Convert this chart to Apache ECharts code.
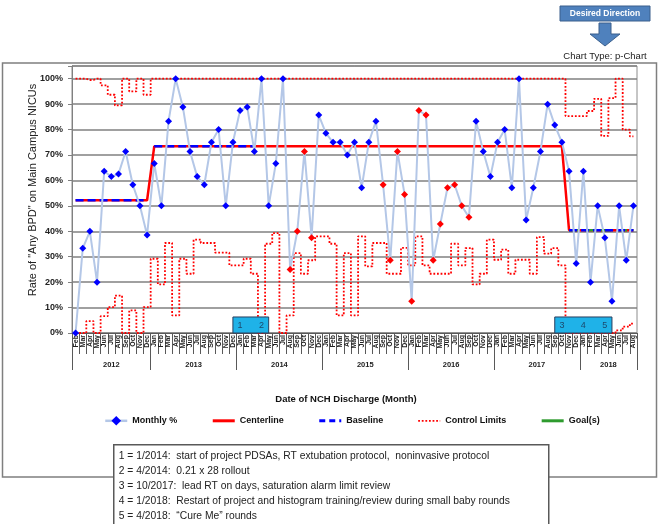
<!DOCTYPE html>
<html>
<head>
<meta charset="utf-8">
<script src="https://cdn.jsdelivr.net/npm/echarts@6/dist/echarts.min.js"></script>
<style>
  html, body { margin: 0; padding: 0; background: #fff; }
  #chart { width: 658px; height: 524px; }
</style>
</head>
<body>
<div id="chart"></div>
<script>
// months Feb 2012 .. Aug 2018
var monthLabels = [
  'Feb', 'Mar', 'Apr', 'May', 'Jun', 'Jul', 'Aug', 'Sep', 'Oct', 'Nov', 'Dec',
  'Jan', 'Feb', 'Mar', 'Apr', 'May', 'Jun', 'Jul', 'Aug', 'Sep', 'Oct', 'Nov', 'Dec',
  'Jan', 'Feb', 'Mar', 'Apr', 'May', 'Jun', 'Jul', 'Aug', 'Sep', 'Oct', 'Nov', 'Dec',
  'Jan', 'Feb', 'Mar', 'Apr', 'May', 'Jun', 'Jul', 'Aug', 'Sep', 'Oct', 'Nov', 'Dec',
  'Jan', 'Feb', 'Mar', 'Apr', 'May', 'Jun', 'Jul', 'Aug', 'Sep', 'Oct', 'Nov', 'Dec',
  'Jan', 'Feb', 'Mar', 'Apr', 'May', 'Jun', 'Jul', 'Aug', 'Sep', 'Oct', 'Nov', 'Dec',
  'Jan', 'Feb', 'Mar', 'Apr', 'May', 'Jun', 'Jul', 'Aug'
];
var yearLabels = ['2012', '2013', '2014', '2015', '2016', '2017', '2018'];
var yearBounds = [0, 11, 23, 35, 47, 59, 71, 79];   // month index where each year starts, plus end

// monthly rate (%)
var monthlyRate = [
  0, 33.3, 40, 20, 63.6, 61.5, 62.5, 71.4, 58.3, 50, 38.5,
  66.7, 50, 83.3, 100, 88.9, 71.4, 61.5, 58.3, 75, 80, 50, 75,
  87.5, 88.9, 71.4, 100, 50, 66.7, 100, 25, 40, 71.4, 37.5, 85.7,
  78.6, 75, 75, 70, 75, 57.1, 75, 83.3, 58.3, 28.6, 71.4, 54.5,
  12.5, 87.5, 85.7, 28.6, 42.9, 57.1, 58.3, 50, 45.5, 83.3, 71.4, 61.5,
  75, 80, 57.1, 100, 44.4, 57.1, 71.4, 90, 81.8, 75, 63.6, 27.3,
  63.6, 20, 50, 37.5, 12.5, 50, 28.6, 50
];
// months flagged as special cause (red points)
var signalMonths = [30, 31, 32, 33, 43, 44, 45, 46, 47, 48, 49, 50, 51, 52, 53, 54, 55];

var upperLimit = [
  100, 100, 99.5, 100, 97.4, 93.7, 89.5, 100, 95.0, 100, 93.7,
  100, 100, 100, 100, 100, 100, 100, 100, 100, 100, 100, 100,
  100, 100, 100, 100, 100, 100, 100, 100, 100, 100, 100, 100,
  100, 100, 100, 100, 100, 100, 100, 100, 100, 100, 100, 100,
  100, 100, 100, 100, 100, 100, 100, 100, 100, 100, 100, 100,
  100, 100, 100, 100, 100, 100, 100, 100, 100, 100, 85.3, 85.3,
  85.3, 87.3, 92.1, 77.5, 92.4, 100, 80, 77.3
];
var lowerLimit = [
  0, 0, 4.7, 0, 6.6, 10.2, 14.7, 0, 8.9, 0, 10.2,
  29.2, 19.1, 35.4, 6.9, 29.2, 23.3, 36.7, 35.4, 35.4, 31.6, 31.6, 26.6,
  26.6, 29.2, 23.3, 0, 35.1, 39.3, 0, 6.9, 31.4, 23.3, 28.6, 38.0,
  38.0, 35.1, 6.9, 31.4, 6.9, 38.0, 26.2, 35.4, 35.4, 23.3, 23.3, 33.5,
  26.6, 38.0, 26.6, 23.3, 23.3, 23.3, 35.1, 26.6, 33.4, 19.1, 23.3, 36.7,
  28.8, 32.8, 23.3, 28.8, 28.8, 23.3, 37.7, 31.2, 33.4, 26.6, 0, 0,
  0, 0, 0, 0, 0, 1.0, 2.5, 3.7
];

// centerline phases
var centerStart = [0, 11, 69];
var centerValue = [52.2, 73.4, 40.4];
// baseline segments
var baseStart = [0, 11, 69];
var baseEnd = [10, 25, 78];
var baseValue = [52.2, 73.4, 40.4];
// goal
var goalStart = 69;
var goalEnd = 78;
var goalValue = 40.4;

// annotations
var eventMonth = [23, 26, 68, 71, 74];
var eventLabel = ['1', '2', '3', '4', '5'];
var eventBoxes = [[0, 1], [2, 4]];
var noteLines = [
  '1 = 1/2014:  start of project PDSAs, RT extubation protocol,  noninvasive protocol',
  '2 = 4/2014:  0.21 x 28 rollout',
  '3 = 10/2017:  lead RT on days, saturation alarm limit review',
  '4 = 1/2018:  Restart of project and histogram training/review during small baby rounds',
  '5 = 4/2018:  \u201CCure Me\u201D rounds'
];

var n = monthLabels.length;

var centerline = [];
for (var i = 0; i < n; i++) {
  var v = null;
  for (var k = 0; k < centerStart.length; k++) {
    if (i >= centerStart[k]) v = centerValue[k];
  }
  centerline.push(v);
}

function segment(start, end, value) {
  var arr = [];
  for (var i = 0; i < n; i++) arr.push(i >= start && i <= end ? value : null);
  return arr;
}

var monthlyData = monthlyRate.map(function (v, i) {
  var red = signalMonths.indexOf(i) >= 0;
  return { value: v, itemStyle: { color: red ? '#ff0000' : '#0000ff' } };
});

var yearMids = [];
for (var y = 0; y < yearLabels.length; y++) {
  yearMids.push((yearBounds[y] + yearBounds[y + 1]) / 2);
}

var font = '"Liberation Sans", Arial, sans-serif';

var baselineSeries = baseStart.map(function (s, k) {
  return {
    name: 'Baseline',
    type: 'line',
    data: segment(s, baseEnd[k], baseValue[k]),
    symbol: 'none',
    itemStyle: { color: '#0000ff' },
    lineStyle: { color: '#0000ff', width: 2.5, type: [8, 4] },
    z: 4
  };
});

var noSymbol = { opacity: 0 };

var chart = echarts.init(document.getElementById('chart'));
var option = {
  animation: false,
  textStyle: { fontFamily: font },
  grid: {
    left: 72, right: 21, top: 66, bottom: 191,
    show: true, borderColor: '#8c8c8c', borderWidth: 1
  },
  legend: {
    data: [
      { name: 'Monthly %', lineStyle: { width: 2.5 } },
      { name: 'Centerline', itemStyle: noSymbol, lineStyle: { width: 3 } },
      { name: 'Baseline', itemStyle: noSymbol, lineStyle: { width: 3, type: [6, 4] } },
      { name: 'Control Limits', itemStyle: noSymbol, lineStyle: { width: 1.8 } },
      { name: 'Goal(s)', itemStyle: noSymbol, lineStyle: { type: 'solid', width: 3 } }
    ],
    left: 99, top: 411,
    itemWidth: 22, itemHeight: 12, itemGap: 34,
    textStyle: { fontSize: 9, fontWeight: 'bold', color: '#111', fontFamily: font }
  },
  xAxis: [{
    type: 'category',
    data: monthLabels,
    boundaryGap: true,
    axisLine: { lineStyle: { color: '#595959', width: 1 } },
    axisTick: { show: true, interval: 0, length: 21, lineStyle: { color: '#595959' } },
    axisLabel: {
      interval: 0, rotate: 90, margin: 2,
      fontSize: 7, fontWeight: 'bold', color: '#222', fontFamily: font
    },
    splitLine: { show: false }
  }, {
    type: 'value',
    min: 0, max: n,
    position: 'bottom',
    axisLine: { show: false },
    splitLine: { show: false },
    axisTick: { show: true, customValues: yearBounds, length: 37, lineStyle: { color: '#595959' } },
    axisLabel: {
      customValues: yearMids, margin: 28,
      fontSize: 7.5, fontWeight: 'bold', color: '#222', fontFamily: font,
      formatter: function (v) {
        for (var j = 0; j < yearMids.length; j++) {
          if (Math.abs(yearMids[j] - v) < 0.01) return yearLabels[j];
        }
        return '';
      }
    }
  }],
  yAxis: {
    type: 'value',
    min: 0, max: 105, interval: 10,
    axisLine: { show: true, lineStyle: { color: '#808080' } },
    axisTick: { show: true, length: 4, lineStyle: { color: '#808080' } },
    axisLabel: {
      margin: 9, fontSize: 9, fontWeight: 'bold', color: '#222', fontFamily: font,
      formatter: function (v) { return v <= 100 ? v + '%' : ''; }
    },
    splitLine: { show: true, lineStyle: { color: '#808080', width: 1.5 } }
  },
  series: [{
    name: 'Control Limits',
    type: 'line',
    data: upperLimit,
    step: 'middle',
    symbol: 'none',
    itemStyle: { color: '#ff0000' },
    lineStyle: { color: '#ff0000', width: 1.8, type: 'dotted' },
    z: 2
  }, {
    name: 'Control Limits',
    type: 'line',
    data: lowerLimit,
    step: 'middle',
    symbol: 'none',
    itemStyle: { color: '#ff0000' },
    lineStyle: { color: '#ff0000', width: 1.8, type: 'dotted' },
    z: 2
  }, {
    name: 'Centerline',
    type: 'line',
    data: centerline,
    symbol: 'none',
    itemStyle: { color: '#ff0000' },
    lineStyle: { color: '#ff0000', width: 2.5 },
    z: 3
  }, {
    name: 'Goal(s)',
    type: 'line',
    data: segment(goalStart, goalEnd, goalValue),
    symbol: 'none',
    itemStyle: { color: '#2e9b2e' },
    lineStyle: { color: '#2e9b2e', width: 2.5, type: [10, 6] },
    z: 3
  }].concat(baselineSeries).concat([{
    name: 'Monthly %',
    type: 'line',
    data: monthlyData,
    symbol: 'diamond',
    symbolSize: 7,
    itemStyle: { color: '#0000ff' },
    lineStyle: { color: '#b4c7e7', width: 2 },
    z: 5
  }, {
    name: 'events',
    type: 'scatter',
    data: eventMonth.map(function (m, i) { return { value: [m, 3.1], name: eventLabel[i] }; }),
    symbol: 'rect',
    symbolSize: 1,
    itemStyle: { color: 'rgba(0,0,0,0)' },
    label: {
      show: true, position: 'inside', formatter: '{b}',
      fontSize: 9, color: '#1c2a4a', fontFamily: font
    },
    z: 8,
    markArea: {
      silent: true,
      z: 7,
      label: { show: false },
      itemStyle: { color: '#1fb2e8', borderColor: '#2a3f5f', borderWidth: 1 },
      data: eventBoxes.map(function (b) {
        return [
          { xAxis: eventMonth[b[0]] - 1, yAxis: 0 },
          { xAxis: eventMonth[b[1]] + 1, yAxis: 6.3 }
        ];
      })
    }
  }]),
  graphic: [
    // outer chart frame
    { type: 'rect', silent: true, z: -10,
      shape: { x: 2.5, y: 63, width: 654, height: 414 },
      style: { fill: 'none', stroke: '#7f7f7f', lineWidth: 1.5 } },
    { type: 'text', silent: true, x: 33, y: 190, rotation: Math.PI / 2,
      style: { text: 'Rate of "Any BPD" on Main Campus NICUs', align: 'center', verticalAlign: 'middle',
               fontSize: 11, fontFamily: font, fill: '#222' } },
    { type: 'text', silent: true, x: 346, y: 399,
      style: { text: 'Date of NCH Discharge (Month)', align: 'center', verticalAlign: 'middle',
               fontSize: 9.5, fontWeight: 'bold', fontFamily: font, fill: '#111' } },
    // desired direction
    { type: 'rect', silent: true,
      shape: { x: 560, y: 6, width: 90, height: 15 },
      style: { fill: '#4f81bd', stroke: '#3a5f8c', lineWidth: 1 } },
    { type: 'text', silent: true, x: 605, y: 13.5,
      style: { text: 'Desired Direction', align: 'center', verticalAlign: 'middle',
               fontSize: 8.5, fontWeight: 'bold', fontFamily: font, fill: '#fff' } },
    { type: 'polygon', silent: true,
      shape: { points: [[599, 23], [611, 23], [611, 34], [620, 34], [605, 46], [590, 34], [599, 34]] },
      style: { fill: '#4f81bd', stroke: '#3a5f8c', lineWidth: 1 } },
    { type: 'text', silent: true, x: 605, y: 56.5,
      style: { text: 'Chart Type: p-Chart', align: 'center', verticalAlign: 'middle',
               fontSize: 9.5, fontFamily: font, fill: '#222' } },
    // notes box
    { type: 'group', left: 113, top: 444, z: 10,
      children: [
        { type: 'rect', silent: true,
          shape: { x: 0, y: 0, width: 435, height: 84 },
          style: { fill: '#fff', stroke: '#595959', lineWidth: 1.5 } }
      ].concat(noteLines.map(function (t, i) {
        return { type: 'text', silent: true, x: 5, y: 11 + i * 15,
          style: { text: t, verticalAlign: 'middle', fontSize: 10.3, fontFamily: font, fill: '#222' } };
      }))
    }
  ]
};
chart.setOption(option);
</script>
</body>
</html>
